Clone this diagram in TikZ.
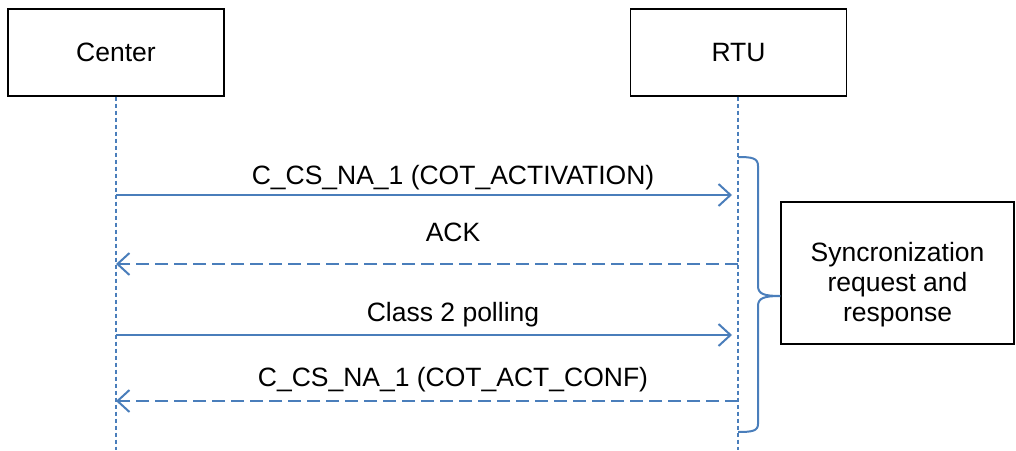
\documentclass[tikz,border=0pt]{standalone}
\usepackage{fontspec}
\setmainfont{Liberation Sans}
\usetikzlibrary{arrows.meta}
\definecolor{msgblue}{HTML}{4A7EBB}

\begin{document}
\begin{tikzpicture}[x=1pt, y=-1pt,
	font=\fontsize{26.5}{30}\selectfont,
	actor/.style={rectangle, draw=black, line width=1.3pt, minimum width=216pt, minimum height=87pt, inner sep=0pt},
	lifeline/.style={draw=msgblue, line width=1.5pt, dash pattern=on 4pt off 3pt},
	msg/.style={draw=msgblue, line width=2pt, shorten >=6pt, -{Straight Barb[length=12pt, width=22pt, line width=2pt]}},
	reply/.style={msg, shorten >=0pt, dash pattern=on 13pt off 6pt},
	lbl/.style={inner sep=0pt}]

\useasboundingbox (0, 0) rectangle (1016, 450);

\node (center) at (116, 52.5) [actor] {Center};
\node (rtu) at (738.5, 52.5) [actor] {RTU};

\coordinate (centerend) at (116, 450);
\coordinate (rtuend) at (738, 450);
\draw[lifeline] (center.south) -- (centerend);
\draw[lifeline] (rtu.south -| rtuend) -- (rtuend);

% messages
\coordinate (c1) at (116, 195);  \coordinate (r1) at (738, 195);
\coordinate (c2) at (116, 264);  \coordinate (r2) at (738, 264);
\coordinate (c3) at (116, 335);  \coordinate (r3) at (738, 335);
\coordinate (c4) at (116, 401);  \coordinate (r4) at (738, 401);

\draw[msg] (c1) -- (r1);
\draw[reply] (r2) -- (c2);
\draw[msg] (c3) -- (r3);
\draw[reply] (r4) -- (c4);

\node (l1) at (453, 178) [lbl] {C\_CS\_NA\_1 (COT\_ACTIVATION)};
\node (l2) at (453, 232) [lbl] {ACK};
\node (l3) at (453, 315) [lbl] {Class 2 polling};
\node (l4) at (453, 380) [lbl] {C\_CS\_NA\_1 (COT\_ACT\_CONF)};

% brace
\node (sync) at (897.5, 273) [rectangle, draw=black, line width=1.3pt, minimum width=233pt, minimum height=142pt] {};
\node (synctext) at (897.5, 285) [lbl, align=center] {Syncronization\\request and\\response};
\coordinate (bt) at (738, 157);
\coordinate (bb) at (738, 432);
\draw[draw=msgblue, line width=2pt] (bt) .. controls (752, 157) and (758, 158) .. (758, 166) -- (758, 286)
	.. controls (758, 294) and (764, 296) .. (sync.west |- 0, 296)
	.. controls (764, 296) and (758, 298) .. (758, 306) -- (758, 424)
	.. controls (758, 431) and (752, 432) .. (bb);

\end{tikzpicture}
\end{document}
